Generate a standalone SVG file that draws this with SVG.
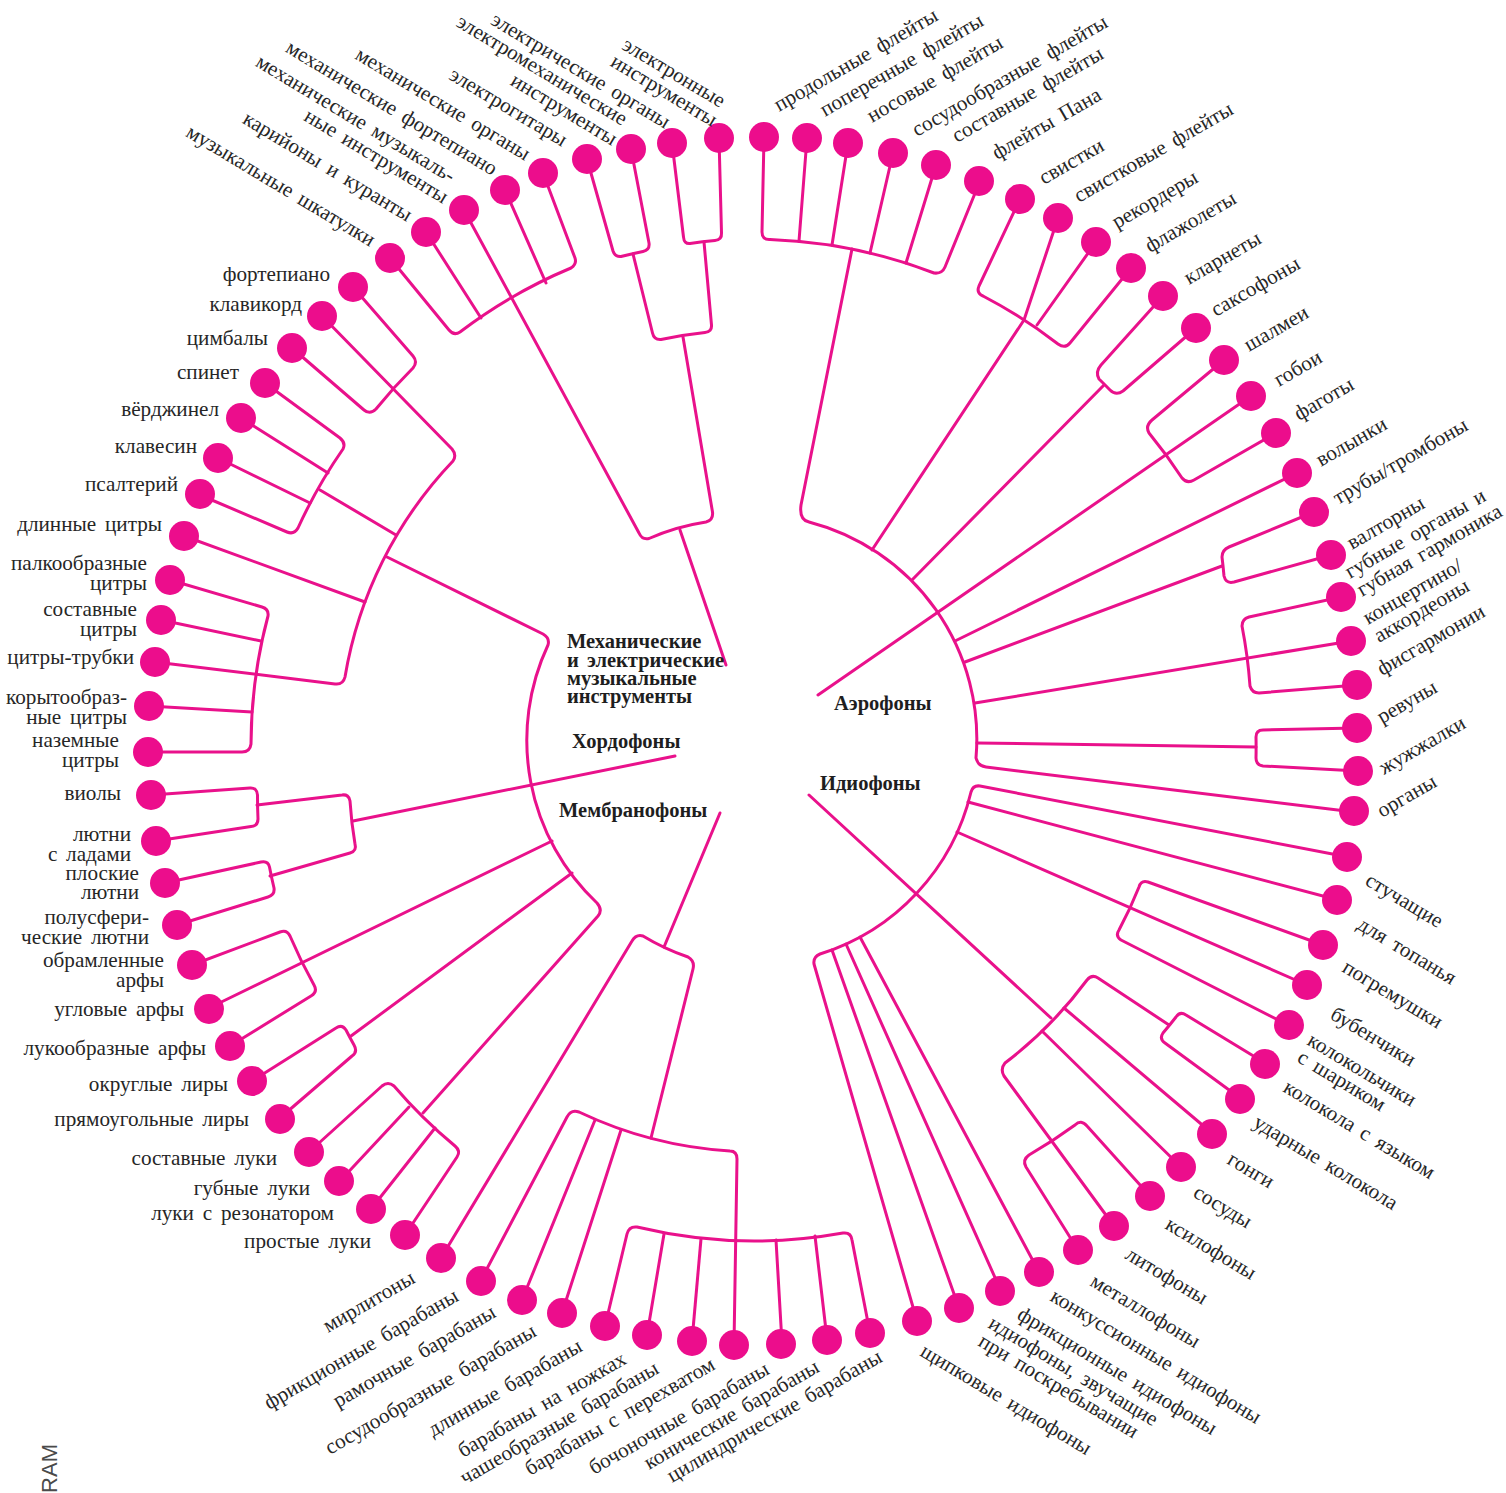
<svg xmlns="http://www.w3.org/2000/svg" width="1506" height="1493" viewBox="0 0 1506 1493">
<style>
.ln{fill:none;stroke:#E9118B;stroke-width:3;stroke-linecap:round;stroke-linejoin:round}
.dot{fill:#EC0D8C}
.lb{font-family:"Liberation Serif","DejaVu Serif",serif;font-size:21.2px;fill:#262626;word-spacing:3.5px}
.e{text-anchor:end}
.hd{font-family:"Liberation Serif","DejaVu Serif",serif;font-size:20.5px;font-weight:bold;fill:#1e1e1e;word-spacing:3px}
.ram{font-family:"Liberation Sans",Arial,sans-serif;font-size:22px;fill:#4a4a4a}
</style>
<rect width="1506" height="1493" fill="#ffffff"/>
<g id="connectors" class="ln">
<path d="M719,138 L721.5,233 Q722,240 715,240.5 A502,502 0 0 0 690,243.5 Q684,244 683.5,237 L672,143"/>
<path d="M704,242 L711.5,325 Q712,332 705,332.5 A411,411 0 0 0 661,339.5 Q654,340 652.5,333 L633,254"/>
<path d="M631,149 L649,243 Q650,250 643,251.5 A502,502 0 0 0 621,256.5 Q615,257 613,251 L587,159"/>
<path d="M683,337 L712.5,512 Q713.5,520 706,522 A226,226 0 0 0 649,538.5 Q642,540 639,533 L464,210"/>
<path d="M680,530 L726,665"/>
<path d="M390,258 L449,330 Q454,336 460,332 A503,503 0 0 1 571,268 Q577,264 575,258 L543,173"/>
<path d="M426,232 L481,318"/>
<path d="M505,190 L546,283"/>
<path d="M353,287 L413,356 Q418,362 413,368 A505,505 0 0 0 376,409 Q370,415 364,410 L292,348"/>
<path d="M322,316 L452,449 Q457,455 453,461 A411,411 0 0 0 345,677 Q343,685 335,684 L155,662"/>
<path d="M265,383 L340,438 Q346,443 343,449 A505,505 0 0 0 298,528 Q294,535 287,532 L200,495"/>
<path d="M241,418 L328,473"/>
<path d="M218,458 L310,503"/>
<path d="M320,490 L396,535"/>
<path d="M184,536 L365,602"/>
<path d="M387,557 L543,634 Q550,638 548,645 A224,224 0 0 0 597,903 Q603,910 598,916 L423,1113"/>
<path d="M675,756 L353,821"/>
<path d="M170,580 L262,607 Q269,609 268,616 A501,501 0 0 0 251,744 Q250,752 242,752 L148,752"/>
<path d="M161,620 L261,641"/>
<path d="M149,706 L252,712"/>
<path d="M151,795 L250,788 Q257,787.5 257.5,795 A498,498 0 0 0 258,819 Q258,826 251,826.5 L156,841"/>
<path d="M257,805 L342,795 Q349,794 350,801 A408,408 0 0 0 355,844 Q357,851 350,853 L270,876"/>
<path d="M165,883 L261,862 Q268,860.5 269.5,867 A502,502 0 0 0 274,888 Q275,895 268,897 L177,925"/>
<path d="M192,965 L280,932 Q287,929.5 290,936 A503,503 0 0 0 314,985 Q318,992 311,996 L230,1046"/>
<path d="M209,1008 L552,841"/>
<path d="M252,1081 L336,1028 Q342,1024 346,1030 A503,503 0 0 0 354,1045 Q358,1052 352,1056 L280,1118"/>
<path d="M351,1036 L572,873"/>
<path d="M309,1152 L382,1086 Q388,1081 394,1086 A503,503 0 0 0 455,1146 Q461,1151 457,1157 L405,1235"/>
<path d="M340,1181 L409,1107"/>
<path d="M371,1209 L435,1128"/>
<path d="M720,813 L664,947"/>
<path d="M441,1258 L632,941 Q636,934 643,936 A226,226 0 0 0 688,957 Q695,961 693,969 L651,1138"/>
<path d="M481,1280 L567,1117 Q571,1109 579,1112 A412,412 0 0 0 730,1151 Q737,1151 737,1159 L734,1345"/>
<path d="M522,1300 L595,1120"/>
<path d="M562,1313 L621,1130"/>
<path d="M605,1326 L627,1234 Q629,1226 637,1227 A503,503 0 0 0 843,1233 Q851,1232 852,1240 L870,1333"/>
<path d="M647,1335 L664,1234"/>
<path d="M692,1341 L701,1239"/>
<path d="M782,1343 L776,1240"/>
<path d="M827,1339 L815,1236"/>
<path d="M1348,857 L980,786 Q973,785 971,792 A224,224 0 0 1 820,954 Q813,957 814,964 L917,1321"/>
<path d="M1338,900 L968,802"/>
<path d="M1307,985 L957,832"/>
<path d="M809,795 L1051,1018"/>
<path d="M959,1308 L832,950"/>
<path d="M1001,1291 L846,944"/>
<path d="M1039,1272 L860,937"/>
<path d="M1323,945 L1148,882 Q1141,880 1139,887 A412,412 0 0 1 1119,930 Q1115,936 1121,940 L1288,1025"/>
<path d="M1169,1025 L1098,978 Q1092,974 1087,980 A412,412 0 0 1 1005,1063 Q1000,1069 1004,1076 L1114,1226"/>
<path d="M1213,1134 L1064,1008"/>
<path d="M1181,1167 L1042,1031"/>
<path d="M1265,1063 L1186,1015 Q1180,1011 1176,1017 A505,505 0 0 1 1163,1033 Q1159,1039 1165,1043 L1240,1098"/>
<path d="M1150,1196 L1087,1126 Q1081,1119 1075,1125 A503,503 0 0 1 1029,1155 Q1022,1160 1026,1167 L1078,1250"/>
<path d="M852,249 L801,505 Q799,520 809,522 A224,224 0 0 1 976,758 Q978,766 986,767 L1354,812"/>
<path d="M764,137 L762,232 Q762,240 770,239.5 A503,503 0 0 1 934,273 Q942,274 945,267 L980,181"/>
<path d="M807,138 L799,241"/>
<path d="M848,143 L832,245"/>
<path d="M893,153 L870,253"/>
<path d="M936,165 L906,263"/>
<path d="M1020,199 L979,286 Q976,293 983,296 A502,502 0 0 1 1058,344 Q1065,349 1070,343 L1131,268"/>
<path d="M1058,218 L1024,320 L872,550"/>
<path d="M1096,242 L1037,325"/>
<path d="M1163,296 L1101,365 Q1095,372 1099,379 A503,503 0 0 1 1110,390 Q1116,396 1123,391 L1196,328"/>
<path d="M1104,385 L912,580"/>
<path d="M1224,360 L1152,420 Q1145,426 1149,433 A503,503 0 0 1 1182,478 Q1187,484 1194,480 L1276,433"/>
<path d="M818,695 L1251,396"/>
<path d="M955,641 L1297,473"/>
<path d="M1314,512 L1229,547 Q1222,550 1222,557 A503,503 0 0 1 1224,576 Q1226,584 1234,582 L1331,555"/>
<path d="M1222,566 L965,662"/>
<path d="M1341,597 L1249,617 Q1242,619 1242,626 A503,503 0 0 1 1250,686 Q1252,693 1259,693 L1357,685"/>
<path d="M975,703 L1351,641"/>
<path d="M1357,728 L1263,730 Q1256,730 1256,737 A504,504 0 0 1 1256,758 Q1256,765 1263,766 L1358,771"/>
<path d="M977,743 L1256,747"/>
</g>
<g id="categories">
<g id="cat-mech"><text class="hd" x="567" y="648">Механические</text><text class="hd" x="567" y="666.5">и электрические</text><text class="hd" x="567" y="685">музыкальные</text><text class="hd" x="567" y="703">инструменты</text></g>
<g id="cat-chordophones"><text class="hd" x="572" y="748">Хордофоны</text></g>
<g id="cat-membranophones"><text class="hd" x="559" y="817">Мембранофоны</text></g>
<g id="cat-aerophones"><text class="hd" x="834" y="710">Аэрофоны</text></g>
<g id="cat-idiophones"><text class="hd" x="820" y="790">Идиофоны</text></g>
</g>
<g id="leaves">
<g id="n01"><circle class="dot" cx="719" cy="138" r="15"/><text class="lb e" transform="translate(720,108) rotate(31)">электронные</text><text class="lb e" transform="translate(712,127) rotate(31)">инструменты</text></g>
<g id="n02"><circle class="dot" cx="672" cy="143" r="15"/><text class="lb e" transform="translate(665,129) rotate(31)">электрические органы</text></g>
<g id="n03"><circle class="dot" cx="631" cy="149" r="15"/><text class="lb e" transform="translate(622,126) rotate(31)">электромеханические</text><text class="lb e" transform="translate(612,146) rotate(31)">инструменты</text></g>
<g id="n04"><circle class="dot" cx="587" cy="159" r="15"/><text class="lb e" transform="translate(562,147) rotate(31)">электрогитары</text></g>
<g id="n05"><circle class="dot" cx="543" cy="173" r="15"/><text class="lb e" transform="translate(525,161) rotate(31)">механические органы</text></g>
<g id="n06"><circle class="dot" cx="505" cy="190" r="15"/><text class="lb e" transform="translate(492,176) rotate(31)">механические фортепиано</text></g>
<g id="n07"><circle class="dot" cx="464" cy="210" r="15"/><text class="lb e" transform="translate(450,183) rotate(31)">механические музыкаль-</text><text class="lb e" transform="translate(443,204) rotate(31)">ные инструменты</text></g>
<g id="n08"><circle class="dot" cx="426" cy="232" r="15"/><text class="lb e" transform="translate(407,222) rotate(31)">карийоны и куранты</text></g>
<g id="n09"><circle class="dot" cx="390" cy="258" r="15"/><text class="lb e" transform="translate(370,247) rotate(31)">музыкальные шкатулки</text></g>
<g id="n10"><circle class="dot" cx="353" cy="287" r="15"/><text class="lb e" x="330" y="281">фортепиано</text></g>
<g id="n11"><circle class="dot" cx="322" cy="316" r="15"/><text class="lb e" x="302" y="311">клавикорд</text></g>
<g id="n12"><circle class="dot" cx="292" cy="348" r="15"/><text class="lb e" x="268" y="345">цимбалы</text></g>
<g id="n13"><circle class="dot" cx="265" cy="383" r="15"/><text class="lb e" x="239" y="379">спинет</text></g>
<g id="n14"><circle class="dot" cx="241" cy="418" r="15"/><text class="lb e" x="219" y="416">вёрджинел</text></g>
<g id="n15"><circle class="dot" cx="218" cy="458" r="15"/><text class="lb e" x="197" y="453">клавесин</text></g>
<g id="n16"><circle class="dot" cx="200" cy="494" r="15"/><text class="lb e" x="178" y="491">псалтерий</text></g>
<g id="n17"><circle class="dot" cx="184" cy="536" r="15"/><text class="lb e" x="162" y="531">длинные цитры</text></g>
<g id="n18"><circle class="dot" cx="170" cy="580" r="15"/><text class="lb e" x="147" y="570">палкообразные</text><text class="lb e" x="147" y="590">цитры</text></g>
<g id="n19"><circle class="dot" cx="161" cy="620" r="15"/><text class="lb e" x="137" y="616">составные</text><text class="lb e" x="137" y="636">цитры</text></g>
<g id="n20"><circle class="dot" cx="155" cy="662" r="15"/><text class="lb e" x="134" y="664">цитры-трубки</text></g>
<g id="n21"><circle class="dot" cx="149" cy="706" r="15"/><text class="lb e" x="127" y="704">корытообраз-</text><text class="lb e" x="127" y="724">ные цитры</text></g>
<g id="n22"><circle class="dot" cx="148" cy="752" r="15"/><text class="lb e" x="119" y="747">наземные</text><text class="lb e" x="119" y="767">цитры</text></g>
<g id="n23"><circle class="dot" cx="151" cy="795" r="15"/><text class="lb e" x="121" y="800">виолы</text></g>
<g id="n24"><circle class="dot" cx="156" cy="841" r="15"/><text class="lb e" x="131" y="841">лютни</text><text class="lb e" x="131" y="861">с ладами</text></g>
<g id="n25"><circle class="dot" cx="165" cy="883" r="15"/><text class="lb e" x="139" y="880">плоские</text><text class="lb e" x="139" y="899">лютни</text></g>
<g id="n26"><circle class="dot" cx="177" cy="925" r="15"/><text class="lb e" x="149" y="924">полусфери-</text><text class="lb e" x="149" y="944">ческие лютни</text></g>
<g id="n27"><circle class="dot" cx="192" cy="965" r="15"/><text class="lb e" x="164" y="967">обрамленные</text><text class="lb e" x="164" y="987">арфы</text></g>
<g id="n28"><circle class="dot" cx="209" cy="1009" r="15"/><text class="lb e" x="184" y="1016">угловые арфы</text></g>
<g id="n29"><circle class="dot" cx="230" cy="1046" r="15"/><text class="lb e" x="206" y="1055">лукообразные арфы</text></g>
<g id="n30"><circle class="dot" cx="252" cy="1081" r="15"/><text class="lb e" x="228" y="1091">округлые лиры</text></g>
<g id="n31"><circle class="dot" cx="280" cy="1119" r="15"/><text class="lb e" x="249" y="1126">прямоугольные лиры</text></g>
<g id="n32"><circle class="dot" cx="309" cy="1152" r="15"/><text class="lb e" x="277" y="1165">составные луки</text></g>
<g id="n33"><circle class="dot" cx="339" cy="1181" r="15"/><text class="lb e" x="310" y="1195">губные луки</text></g>
<g id="n34"><circle class="dot" cx="371" cy="1209" r="15"/><text class="lb e" x="334" y="1220">луки с резонатором</text></g>
<g id="n35"><circle class="dot" cx="405" cy="1235" r="15"/><text class="lb e" x="371" y="1248">простые луки</text></g>
<g id="n36"><circle class="dot" cx="441" cy="1258" r="15"/><text class="lb" transform="translate(328,1333) rotate(-30)">мирлитоны</text></g>
<g id="n37"><circle class="dot" cx="481" cy="1281" r="15"/><text class="lb" transform="translate(269,1410) rotate(-30)">фрикционные барабаны</text></g>
<g id="n38"><circle class="dot" cx="522" cy="1300" r="15"/><text class="lb" transform="translate(338,1408) rotate(-30)">рамочные барабаны</text></g>
<g id="n39"><circle class="dot" cx="562" cy="1313" r="15"/><text class="lb" transform="translate(330,1455) rotate(-30)">сосудообразные барабаны</text></g>
<g id="n40"><circle class="dot" cx="605" cy="1326" r="15"/><text class="lb" transform="translate(433,1437) rotate(-30)">длинные барабаны</text></g>
<g id="n41"><circle class="dot" cx="647" cy="1335" r="15"/><text class="lb" transform="translate(463,1458) rotate(-30)">барабаны на ножках</text></g>
<g id="n42"><circle class="dot" cx="692" cy="1341" r="15"/><text class="lb" transform="translate(465,1485) rotate(-30)">чашеобразные барабаны</text></g>
<g id="n43"><circle class="dot" cx="734" cy="1345" r="15"/><text class="lb" transform="translate(530,1476) rotate(-30)">барабаны с перехватом</text></g>
<g id="n44"><circle class="dot" cx="781" cy="1344" r="15"/><text class="lb" transform="translate(594,1475) rotate(-30)">бочоночные барабаны</text></g>
<g id="n45"><circle class="dot" cx="827" cy="1340" r="15"/><text class="lb" transform="translate(649,1470) rotate(-30)">конические барабаны</text></g>
<g id="n46"><circle class="dot" cx="870" cy="1333" r="15"/><text class="lb" transform="translate(672,1483) rotate(-30)">цилиндрические барабаны</text></g>
<g id="n47"><circle class="dot" cx="917" cy="1321" r="15"/><text class="lb" transform="translate(919,1355) rotate(31)">щипковые идиофоны</text></g>
<g id="n48"><circle class="dot" cx="959" cy="1308" r="15"/><text class="lb" transform="translate(987,1327) rotate(31)">идиофоны, звучащие</text><text class="lb" transform="translate(977,1345) rotate(31)">при поскребывании</text></g>
<g id="n49"><circle class="dot" cx="1000" cy="1291" r="15"/><text class="lb" transform="translate(1016,1318) rotate(31)">фрикционные идиофоны</text></g>
<g id="n50"><circle class="dot" cx="1039" cy="1272" r="15"/><text class="lb" transform="translate(1049,1300) rotate(31)">конкуссионные идиофоны</text></g>
<g id="n51"><circle class="dot" cx="1078" cy="1250" r="15"/><text class="lb" transform="translate(1089,1285) rotate(31)">металлофоны</text></g>
<g id="n52"><circle class="dot" cx="1114" cy="1226" r="15"/><text class="lb" transform="translate(1124,1258) rotate(31)">литофоны</text></g>
<g id="n53"><circle class="dot" cx="1150" cy="1196" r="15"/><text class="lb" transform="translate(1164,1228) rotate(31)">ксилофоны</text></g>
<g id="n54"><circle class="dot" cx="1181" cy="1167" r="15"/><text class="lb" transform="translate(1192,1196) rotate(31)">сосуды</text></g>
<g id="n55"><circle class="dot" cx="1212" cy="1134" r="15"/><text class="lb" transform="translate(1226,1163) rotate(31)">гонги</text></g>
<g id="n56"><circle class="dot" cx="1240" cy="1099" r="15"/><text class="lb" transform="translate(1252,1126) rotate(31)">ударные колокола</text></g>
<g id="n57"><circle class="dot" cx="1265" cy="1064" r="15"/><text class="lb" transform="translate(1282,1091) rotate(31)">колокола с языком</text></g>
<g id="n58"><circle class="dot" cx="1289" cy="1025" r="15"/><text class="lb" transform="translate(1306,1044) rotate(31)">колокольчики</text><text class="lb" transform="translate(1296,1061) rotate(31)">с шариком</text></g>
<g id="n59"><circle class="dot" cx="1307" cy="985" r="15"/><text class="lb" transform="translate(1329,1018) rotate(31)">бубенчики</text></g>
<g id="n60"><circle class="dot" cx="1323" cy="945" r="15"/><text class="lb" transform="translate(1341,971) rotate(31)">погремушки</text></g>
<g id="n61"><circle class="dot" cx="1337" cy="900" r="15"/><text class="lb" transform="translate(1356,928) rotate(31)">для топанья</text></g>
<g id="n62"><circle class="dot" cx="1347" cy="857" r="15"/><text class="lb" transform="translate(1364,884) rotate(31)">стучащие</text></g>
<g id="n63"><circle class="dot" cx="1354" cy="811" r="15"/><text class="lb" transform="translate(1382,818) rotate(-30)">органы</text></g>
<g id="n64"><circle class="dot" cx="1358" cy="771" r="15"/><text class="lb" transform="translate(1384,775) rotate(-30)">жужжалки</text></g>
<g id="n65"><circle class="dot" cx="1357" cy="728" r="15"/><text class="lb" transform="translate(1382,724) rotate(-30)">ревуны</text></g>
<g id="n66"><circle class="dot" cx="1357" cy="685" r="15"/><text class="lb" transform="translate(1382,676) rotate(-30)">фисгармонии</text></g>
<g id="n67"><circle class="dot" cx="1351" cy="641" r="15"/><text class="lb" transform="translate(1368,625) rotate(-30)">концертино/</text><text class="lb" transform="translate(1379,643) rotate(-30)">аккордеоны</text></g>
<g id="n68"><circle class="dot" cx="1341" cy="597" r="15"/><text class="lb" transform="translate(1350,579) rotate(-30)">губные органы и</text><text class="lb" transform="translate(1362,597) rotate(-30)">губная гармоника</text></g>
<g id="n69"><circle class="dot" cx="1331" cy="555" r="15"/><text class="lb" transform="translate(1352,550) rotate(-30)">валторны</text></g>
<g id="n70"><circle class="dot" cx="1314" cy="512" r="15"/><text class="lb" transform="translate(1338,505) rotate(-30)">трубы/тромбоны</text></g>
<g id="n71"><circle class="dot" cx="1297" cy="473" r="15"/><text class="lb" transform="translate(1321,467) rotate(-30)">волынки</text></g>
<g id="n72"><circle class="dot" cx="1276" cy="433" r="15"/><text class="lb" transform="translate(1299,421) rotate(-30)">фаготы</text></g>
<g id="n73"><circle class="dot" cx="1251" cy="396" r="15"/><text class="lb" transform="translate(1279,387) rotate(-30)">гобои</text></g>
<g id="n74"><circle class="dot" cx="1224" cy="360" r="15"/><text class="lb" transform="translate(1249,352) rotate(-30)">шалмеи</text></g>
<g id="n75"><circle class="dot" cx="1196" cy="328" r="15"/><text class="lb" transform="translate(1216,317) rotate(-30)">саксофоны</text></g>
<g id="n76"><circle class="dot" cx="1163" cy="296" r="15"/><text class="lb" transform="translate(1189,285) rotate(-30)">кларнеты</text></g>
<g id="n77"><circle class="dot" cx="1131" cy="268" r="15"/><text class="lb" transform="translate(1150,253) rotate(-30)">флажолеты</text></g>
<g id="n78"><circle class="dot" cx="1096" cy="242" r="15"/><text class="lb" transform="translate(1117,229) rotate(-30)">рекордеры</text></g>
<g id="n79"><circle class="dot" cx="1058" cy="218" r="15"/><text class="lb" transform="translate(1079,203) rotate(-30)">свистковые флейты</text></g>
<g id="n80"><circle class="dot" cx="1020" cy="199" r="15"/><text class="lb" transform="translate(1044,185) rotate(-30)">свистки</text></g>
<g id="n81"><circle class="dot" cx="979" cy="181" r="15"/><text class="lb" transform="translate(997,160) rotate(-30)">флейты Пана</text></g>
<g id="n82"><circle class="dot" cx="936" cy="165" r="15"/><text class="lb" transform="translate(957,143) rotate(-30)">составные флейты</text></g>
<g id="n83"><circle class="dot" cx="893" cy="153" r="15"/><text class="lb" transform="translate(917,137) rotate(-30)">сосудообразные флейты</text></g>
<g id="n84"><circle class="dot" cx="848" cy="143" r="15"/><text class="lb" transform="translate(872,123) rotate(-30)">носовые флейты</text></g>
<g id="n85"><circle class="dot" cx="807" cy="138" r="15"/><text class="lb" transform="translate(825,117) rotate(-30)">поперечные флейты</text></g>
<g id="n86"><circle class="dot" cx="764" cy="137" r="15"/><text class="lb" transform="translate(779,112) rotate(-30)">продольные флейты</text></g>
</g>
<text class="ram" text-anchor="end" transform="translate(57,1444) rotate(-90)">RAM</text>
</svg>
